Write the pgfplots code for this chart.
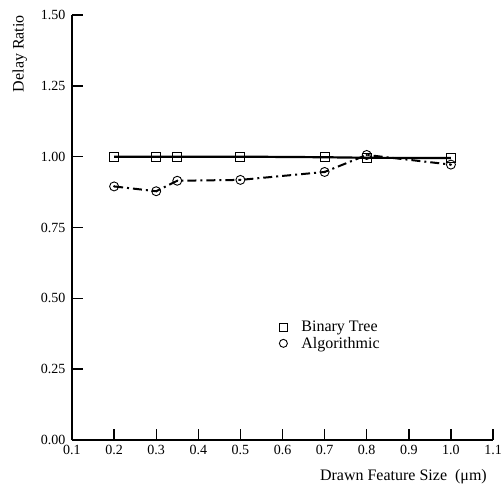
\documentclass[border=0pt]{standalone}
\usepackage{fontspec}
\setmainfont{Liberation Serif}
\usepackage{pgfplots}
\pgfplotsset{compat=1.18}
\begin{document}
\begin{tikzpicture}
\begin{axis}[
  name=ax,
  scale only axis,
  width=421pt, height=425pt,
  xmin=0.1, xmax=1.1, ymin=0, ymax=1.5,
  axis lines=left,
  axis line style={-, line width=2pt},
  tick align=inside,
  major tick length=11pt,
  tick style={line width=1.4pt, black},
  xtick={0.1,0.2,...,1.1},
  xticklabels={0.1,0.2,0.3,0.4,0.5,0.6,0.7,0.8,0.9,1.0,1.1},
  ytick={0,0.25,0.5,0.75,1,1.25,1.5},
  yticklabels={0.00,0.25,0.50,0.75,1.00,1.25,1.50},
  /pgf/number format/assume math mode=true,
  ticklabel style={font=\fontsize{14}{16}\selectfont},
  xticklabel style={yshift=-2pt},
  yticklabel style={xshift=-3pt},
  ylabel={Delay Ratio},
  ylabel style={at={(axis description cs:-0.124,1)}, anchor=east, rotate=0, inner sep=0pt, font=\fontsize{16}{19}\selectfont},
  xlabel={Drawn Feature Size\ \ (μm)},
  xlabel style={at={(axis description cs:1,0)}, anchor=north east, xshift=-6pt, yshift=-29pt, inner sep=0pt, font=\fontsize{16}{19}\selectfont},
  legend style={draw=none, fill=none, at={(axis cs:0.585,0.435)}, anchor=north west, font=\fontsize{16}{19}\selectfont, row sep=0pt},
  legend cell align=left,
  clip=false,
]
\addplot[black, line width=2.2pt, mark=square, mark size=4.5pt, mark options={solid, line width=0.9pt, fill=white}, forget plot]
  coordinates {(0.2,1.0) (0.3,1.0) (0.35,1.0) (0.5,1.0) (0.7,0.998) (0.8,0.996) (1.0,0.995)};
\addplot[black, line width=2pt, dash pattern=on 9pt off 4pt on 2pt off 4pt, mark=o, mark size=4.5pt, mark options={solid, line width=0.9pt, fill=white}, forget plot]
  coordinates {(0.2,0.895) (0.3,0.878) (0.35,0.915) (0.5,0.918) (0.7,0.946) (0.8,1.006) (1.0,0.972)};
\addplot[black, only marks, mark=*, mark size=0.9pt, forget plot]
  coordinates {(0.2,0.895) (0.3,0.878) (0.35,0.915) (0.5,0.918) (0.7,0.946) (0.8,1.006) (1.0,0.972)};
\addlegendimage{only marks, mark=square, mark size=4pt, black, line width=0.9pt}
\addlegendentry{\hspace{12pt}Binary Tree}
\addlegendimage{only marks, mark=o, mark size=4pt, black, line width=0.9pt}
\addlegendentry{\hspace{12pt}Algorithmic}
\end{axis}
\pgfresetboundingbox
\path[use as bounding box] ([xshift=-72pt,yshift=-44pt]ax.south west) rectangle ([xshift=9pt,yshift=15pt]ax.north east);
\end{tikzpicture}
\end{document}
